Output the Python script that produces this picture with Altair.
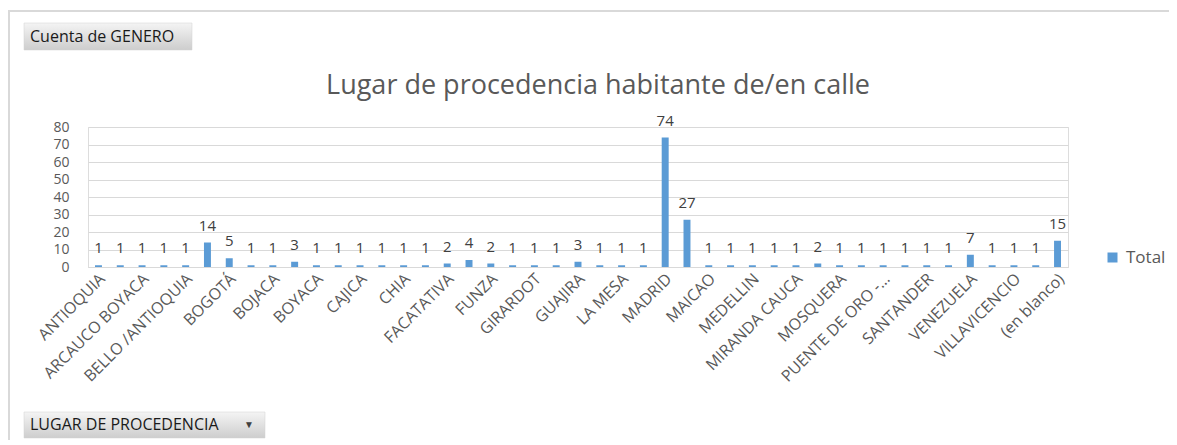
import altair as alt
import pandas as pd

categorias = [
    "ANTIOQUIA", "ARAUCA", "ARCAUCO BOYACA", "BARRANQUILLA", "BELLO /ANTIOQUIA",
    "BOGOTA", "BOGOTÁ", "BOGOTÁ D.C.", "BOJACA", "BOLIVAR", "BOYACA", "BUCARAMANGA",
    "CAJICA", "CALI", "CHIA", "CUNDINAMARCA", "FACATATIVA", "FLORENCIA", "FUNZA",
    "FUSAGASUGA", "GIRARDOT", "GUADUAS", "GUAJIRA", "IBAGUE", "LA MESA", "LA VEGA",
    "MADRID", "MADRID CUNDINAMARCA", "MAICAO", "MANIZALES", "MEDELLIN", "META",
    "MIRANDA CAUCA", "MONTERIA", "MOSQUERA", "NARIÑO", "PUENTE DE ORO -…", "QUINDIO",
    "SANTANDER", "TOLIMA", "VENEZUELA", "VILLA DE LEYVA", "VILLAVICENCIO", "ZIPAQUIRA",
    "(en blanco)",
]
totales = [
    1, 1, 1, 1, 1, 14, 5, 1, 1, 3, 1, 1, 1, 1, 1, 1, 2, 4, 2, 1, 1, 1, 3, 1, 1, 1,
    74, 27, 1, 1, 1, 1, 1, 2, 1, 1, 1, 1, 1, 1, 7, 1, 1, 1, 15,
]
etiquetas_visibles = categorias[::2]
ticks_y = list(range(0, 81, 10))
serie = "Total"
titulo = "Lugar de procedencia habitante de/en calle"
boton_valores = "Cuenta de GENERO"
boton_ejes = "LUGAR DE PROCEDENCIA"

FONT = "Open Sans"
GRAY = "#595959"
df = pd.DataFrame({"lugar": categorias, "total": totales, "serie": [serie] * len(categorias)})

x_enc = alt.X(
    "lugar:N", sort=categorias, title=None,
    scale=alt.Scale(paddingInner=0.68, paddingOuter=0.32),
    axis=alt.Axis(values=etiquetas_visibles, labelAngle=-45, labelAlign="right",
                  labelBaseline="middle", labelPadding=9, labelOffset=4, labelFontSize=16,
                  labelColor=GRAY, labelFont=FONT, ticks=False, domainColor="#d9d9d9",
                  grid=False, labelOverlap=False, labelLimit=300),
)
y_enc = alt.Y(
    "total:Q", title=None, scale=alt.Scale(domain=[0, 80], nice=False),
    axis=alt.Axis(values=ticks_y, grid=True, gridColor="#d9d9d9", domain=False,
                  ticks=False, labelFontSize=14, labelColor=GRAY, labelPadding=19,
                  labelFont=FONT),
)

base = alt.Chart(df)
bars = base.mark_bar().encode(
    x=x_enc, y=y_enc,
    color=alt.Color("serie:N", scale=alt.Scale(range=["#5b9bd5"]),
                    legend=alt.Legend(orient="none", legendX=1016, legendY=122, title=None,
                                      symbolType="square", symbolSize=100,
                                      symbolStrokeWidth=0, labelFontSize=17,
                                      labelColor=GRAY, labelFont=FONT, padding=0,
                                      labelOffset=5)),
)
labels = base.mark_text(dy=-12, baseline="alphabetic", fontSize=15, color="#404040",
                        font=FONT).encode(x=x_enc, y=y_enc, text="total:Q")

one = pd.DataFrame({"k": [0]})
grad = alt.LinearGradient(gradient="linear",
                          stops=[alt.GradientStop(color="#f4f4f4", offset=0),
                                 alt.GradientStop(color="#cdcdcd", offset=1)],
                          x1=0, x2=0, y1=0, y2=1)

title_layer = alt.Chart(pd.DataFrame({"t": [titulo]})).mark_text(
    fontSize=27, color=GRAY, font=FONT, align="center", baseline="middle"
).encode(text="t:N", x=alt.value(510), y=alt.value(-41))

btn1 = alt.Chart(one).mark_rect(color=grad, stroke="#d0d0d0", strokeWidth=0.5).encode(
    x=alt.value(-64), x2=alt.value(104), y=alt.value(-104), y2=alt.value(-77))
btn1_t = alt.Chart(pd.DataFrame({"t": [boton_valores]})).mark_text(
    fontSize=16, color="#1a1a1a", font=FONT, align="left", baseline="middle"
).encode(text="t:N", x=alt.value(-58), y=alt.value(-90))

btn2 = alt.Chart(one).mark_rect(color=grad, stroke="#d0d0d0", strokeWidth=0.5).encode(
    x=alt.value(-64), x2=alt.value(177), y=alt.value(285), y2=alt.value(311))
btn2_t = alt.Chart(pd.DataFrame({"t": [boton_ejes]})).mark_text(
    fontSize=16, color="#1a1a1a", font=FONT, align="left", baseline="middle"
).encode(text="t:N", x=alt.value(-58), y=alt.value(298))
btn2_a = alt.Chart(pd.DataFrame({"t": ["▼"]})).mark_text(
    fontSize=10, color="#404040", align="center", baseline="middle"
).encode(text="t:N", x=alt.value(161), y=alt.value(298))

border_top = alt.Chart(one).mark_rule(color="#d9d9d9", strokeWidth=2).encode(
    x=alt.value(-80), x2=alt.value(1085), y=alt.value(-116))
border_left = alt.Chart(one).mark_rule(color="#d9d9d9", strokeWidth=2).encode(
    x=alt.value(-79), y=alt.value(-117), y2=alt.value(320))

chart = alt.layer(
    bars, labels, title_layer, btn1, btn1_t, btn2, btn2_t, btn2_a, border_top, border_left
).properties(
    width=980, height=140,
    autosize=alt.AutoSizeParams(type="none"),
    padding={"left": 80, "top": 119, "right": 101, "bottom": 173},
).configure_view(strokeWidth=0).configure(background="white")

chart.save("out.html", embed_options={"renderer": "svg", "actions": False})
